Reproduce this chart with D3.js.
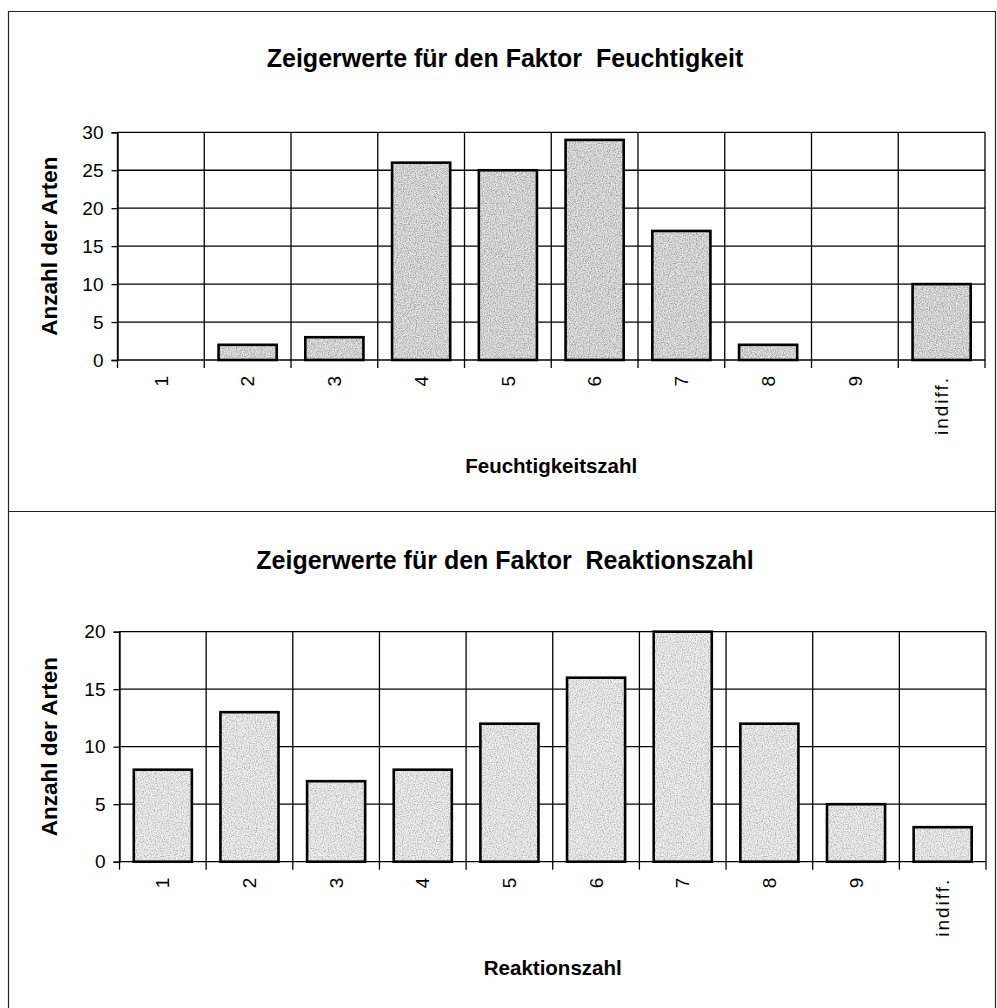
<!DOCTYPE html>
<html>
<head>
<meta charset="utf-8">
<script src="https://cdn.jsdelivr.net/npm/d3@7/dist/d3.min.js"></script>
<style>
  html, body { margin: 0; padding: 0; background: #fff; }
  svg { display: block; }
  text { font-family: "Liberation Sans", Arial, sans-serif; fill: #000; }
</style>
</head>
<body>
<script>
// Zeigerwerte (ecological indicator values): number of species per class
const categories = ["1", "2", "3", "4", "5", "6", "7", "8", "9", "indiff."];
const feuchtigkeitValues = [0, 2, 3, 26, 25, 29, 17, 2, 0, 10];
const reaktionValues = [8, 13, 7, 8, 12, 16, 20, 12, 5, 3];
const feuchtigkeitTicks = [0, 5, 10, 15, 20, 25, 30];
const reaktionTicks = [0, 5, 10, 15, 20];

const W = 997, H = 1008;
const svg = d3.select("body").append("svg").attr("width", W).attr("height", H);

// grainy grey fill for the bars
const defs = svg.append("defs");
function speckle(id, base, dot, cut, seed) {
  const f = defs.append("filter").attr("id", id)
    .attr("x", 0).attr("y", 0).attr("width", "100%").attr("height", "100%");
  f.append("feTurbulence").attr("type", "fractalNoise")
    .attr("baseFrequency", 0.85).attr("numOctaves", 2).attr("seed", seed).attr("result", "noise");
  f.append("feColorMatrix").attr("in", "noise").attr("type", "matrix")
    .attr("values", `0 0 0 0 0  0 0 0 0 0  0 0 0 0 0  0 0 0 2.2 ${cut}`).attr("result", "mask");
  f.append("feFlood").attr("flood-color", base).attr("result", "baseC");
  f.append("feComposite").attr("in", "baseC").attr("in2", "SourceGraphic").attr("operator", "in").attr("result", "baseFill");
  f.append("feFlood").attr("flood-color", dot).attr("result", "dotC");
  f.append("feComposite").attr("in", "dotC").attr("in2", "mask").attr("operator", "in").attr("result", "dots");
  f.append("feComposite").attr("in", "dots").attr("in2", "SourceGraphic").attr("operator", "in").attr("result", "dotsIn");
  const m = f.append("feMerge");
  m.append("feMergeNode").attr("in", "baseFill");
  m.append("feMergeNode").attr("in", "dotsIn");
}
speckle("grainTop", "#e6e6e6", "#9a9a9a", -0.75, 4);
speckle("grainBottom", "#f0f0f0", "#a8a8a8", -0.85, 9);

// panel frames
const frame = svg.append("g").attr("fill", "none").attr("stroke", "#222").attr("stroke-width", 1.2);
frame.append("path").attr("d", "M8.5,1008 V11.5 H995.5 V1008");
frame.append("line").attr("x1", 8.5).attr("x2", 995.5).attr("y1", 511.5).attr("y2", 511.5);

function drawPanel(cfg) {
  const g = svg.append("g");
  const x = d3.scaleBand().domain(categories)
    .range([cfg.left, cfg.right]).paddingInner(0.33).paddingOuter(0.165);
  const y = d3.scaleLinear().domain([0, d3.max(cfg.ticks)]).range([cfg.bottom, cfg.top]);
  const step = x.step();
  const bounds = categories.map(c => x(c) - step * 0.165).concat([cfg.right]);

  // grid
  const grid = g.append("g").attr("stroke", "#000").attr("stroke-width", 1.3).attr("fill", "none");
  grid.selectAll(".h").data(cfg.ticks).join("line")
    .attr("x1", cfg.left).attr("x2", cfg.right)
    .attr("y1", d => y(d)).attr("y2", d => y(d));
  grid.selectAll(".v").data(bounds).join("line")
    .attr("x1", d => d).attr("x2", d => d)
    .attr("y1", cfg.top).attr("y2", cfg.bottom + 8);

  // y axis
  const yAxis = g.append("g").attr("transform", `translate(${cfg.left},0)`)
    .call(d3.axisLeft(y).tickValues(cfg.ticks).tickSize(6).tickPadding(8).tickFormat(d3.format("d")));
  yAxis.select(".domain").attr("stroke", "#000").attr("stroke-width", 1.3);
  yAxis.selectAll(".tick line").attr("stroke", "#000").attr("stroke-width", 1.3);
  yAxis.selectAll(".tick text").attr("font-size", 19).attr("font-family", "Liberation Sans, Arial, sans-serif");

  // x axis labels, rotated
  const xAxis = g.append("g").attr("transform", `translate(0,${cfg.bottom})`)
    .call(d3.axisBottom(x).tickSize(0).tickPadding(0));
  xAxis.select(".domain").remove();
  xAxis.selectAll(".tick text")
    .attr("font-size", 19).attr("font-family", "Liberation Sans, Arial, sans-serif")
    .attr("text-anchor", "end")
    .attr("letter-spacing", d => d.length > 1 ? 2 : 0)
    .attr("transform", "rotate(-90)")
    .attr("x", -16).attr("y", 0).attr("dy", "0.35em");

  // bars
  const data = categories.map((c, i) => ({ c, v: cfg.values[i] })).filter(d => d.v > 0);
  g.append("g").selectAll("rect").data(data).join("rect")
    .attr("x", d => x(d.c)).attr("width", x.bandwidth())
    .attr("y", d => y(d.v)).attr("height", d => y(0) - y(d.v))
    .attr("fill", "#d6d6d6").attr("filter", `url(#${cfg.grain})`);
  g.append("g").selectAll("rect").data(data).join("rect")
    .attr("x", d => x(d.c)).attr("width", x.bandwidth())
    .attr("y", d => y(d.v)).attr("height", d => y(0) - y(d.v))
    .attr("fill", "none").attr("stroke", "#000").attr("stroke-width", 2.6);

  // titles
  g.append("text").attr("x", 505).attr("y", cfg.titleY)
    .attr("text-anchor", "middle").attr("font-weight", "bold").attr("font-size", 25)
    .text(cfg.title);
  g.append("text").attr("x", (cfg.left + cfg.right) / 2).attr("y", cfg.bottom + 113)
    .attr("text-anchor", "middle").attr("font-weight", "bold").attr("font-size", 20.5)
    .text(cfg.xTitle);
  g.append("text")
    .attr("transform", `translate(57,${(cfg.top + cfg.bottom) / 2}) rotate(-90)`)
    .attr("text-anchor", "middle").attr("font-weight", "bold").attr("font-size", 22.5)
    .text("Anzahl der Arten");
}

drawPanel({
  title: "Zeigerwerte für den Faktor\u00a0\u00a0Feuchtigkeit",
  xTitle: "Feuchtigkeitszahl",
  values: feuchtigkeitValues, ticks: feuchtigkeitTicks,
  left: 117.5, right: 985, top: 132.3, bottom: 360, titleY: 67, grain: "grainTop"
});
drawPanel({
  title: "Zeigerwerte für den Faktor\u00a0\u00a0Reaktionszahl",
  xTitle: "Reaktionszahl",
  values: reaktionValues, ticks: reaktionTicks,
  left: 119.5, right: 986, top: 631.7, bottom: 861.7, titleY: 569, grain: "grainBottom"
});
</script>
</body>
</html>
